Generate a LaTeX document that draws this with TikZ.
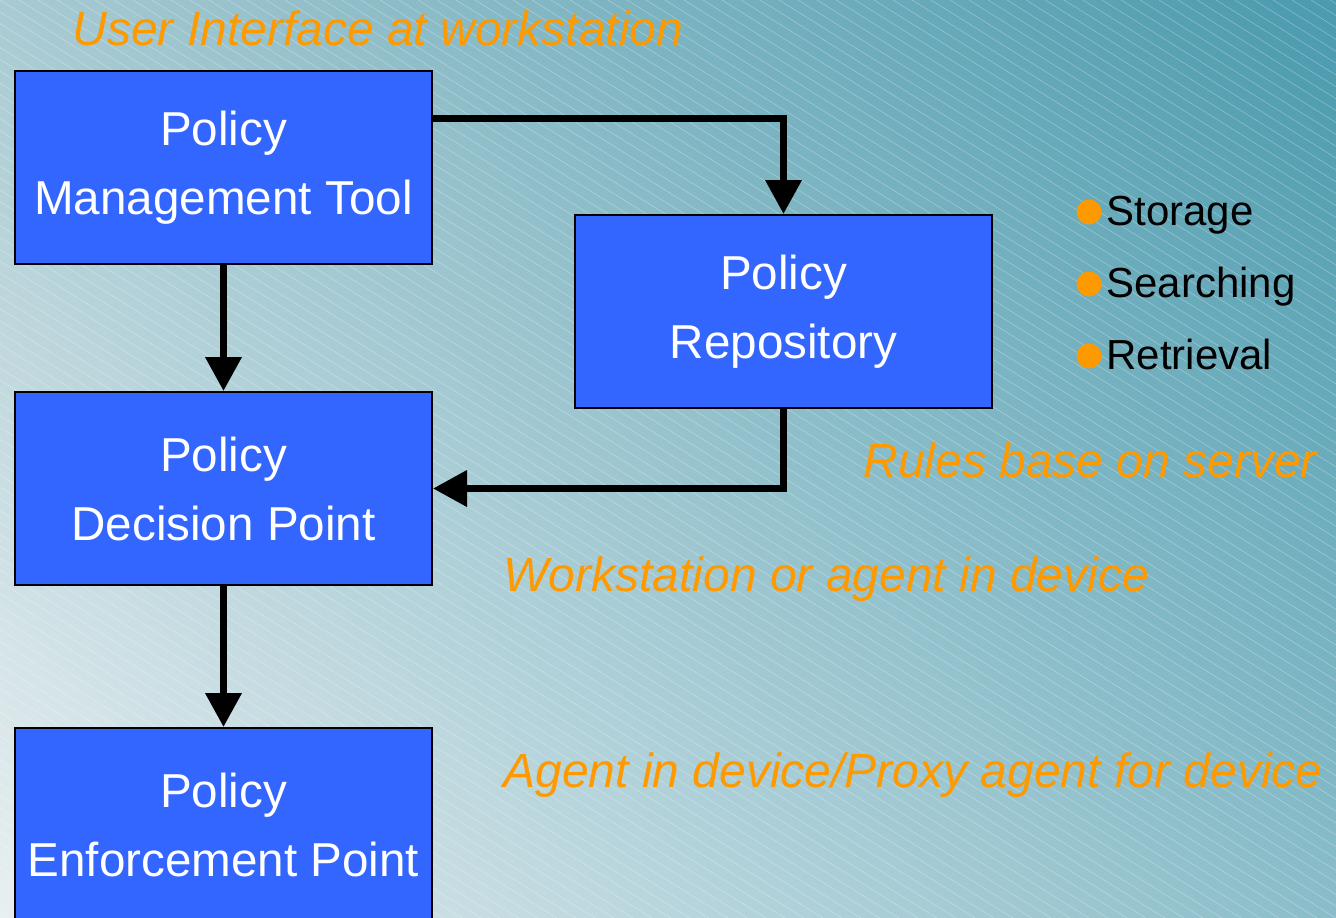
\documentclass[tikz,border=0pt]{standalone}
\usepackage{fontspec}
\setmainfont{Liberation Sans}
\usetikzlibrary{arrows.meta,calc,shadings}
\definecolor{boxblue}{HTML}{3366FF}
\definecolor{lblorange}{HTML}{FF9900}
\definecolor{bgul}{HTML}{A8CAD2}
\definecolor{bgur}{HTML}{4A9AAE}
\definecolor{bgll}{HTML}{E8EFF1}
\definecolor{bglr}{HTML}{8ABDC9}
\tikzset{
  box/.style={draw=black, line width=1pt, fill=boxblue, text=white,
    minimum width=208.5pt, minimum height=96.5pt, inner sep=0pt, align=center,
    font=\fontsize{23.8}{34.5}\selectfont, anchor=north west},
  lbl/.style={text=lblorange, font=\fontsize{24}{28}\selectfont\itshape,
    inner sep=0pt, anchor=base west},
  conn/.style={line width=3.5pt, -{Triangle[width=17.5pt,length=17pt]}},
  bullettext/.style={font=\fontsize{21}{25}\selectfont, inner sep=0pt, anchor=base west},
  bulletdot/.style={circle, fill=lblorange, minimum size=12.5pt, inner sep=0pt},
  hatch/.style={white, line width=0.3pt, opacity=0.3}
}
\begin{document}
\begin{tikzpicture}[x=0.5pt,y=-0.5pt]
\clip (0,0) rectangle (1336,917);
\shade[upper left=bgul, upper right=bgur, lower left=bgll, lower right=bglr]
  (0,0) rectangle (1336,917);
\foreach \k in {-82,...,71}
  \draw[hatch] (\k*19,0) -- ++(1600,1000);

\node[box] (pmt) at (14,70) {Policy\\Management Tool};
\node[box] (pr) at (574,214) {Policy\\Repository};
\node[box] (pdp) at (14,391) {Policy\\Decision Point};
\node[box] (pep) at (14,727) {Policy\\Enforcement Point};

\draw[conn] (pmt.south) -- (pdp.north);
\draw[conn] (pdp.south) -- (pep.north);
\draw[conn] ($(pmt.north east)+(0,48)$) -| (pr.north);
\draw[conn] (pr.south) |- (pdp.east);

\node[lbl] (l1) at (72,45) {User Interface at workstation};
\node[lbl] (l2) at (863,477) {Rules base on server};
\node[lbl] (l3) at (503,591) {Workstation or agent in device};
\node[lbl] (l4) at (503,787) {Agent in device/Proxy agent for device};

\node[bulletdot] (d1) at (1089,212) {};
\node[bulletdot] (d2) at (1089,284) {};
\node[bulletdot] (d3) at (1089,356) {};
\node[bullettext] (b1) at (1106,225) {Storage};
\node[bullettext] (b2) at (1106,297) {Searching};
\node[bullettext] (b3) at (1106,369) {Retrieval};
\end{tikzpicture}
\end{document}
